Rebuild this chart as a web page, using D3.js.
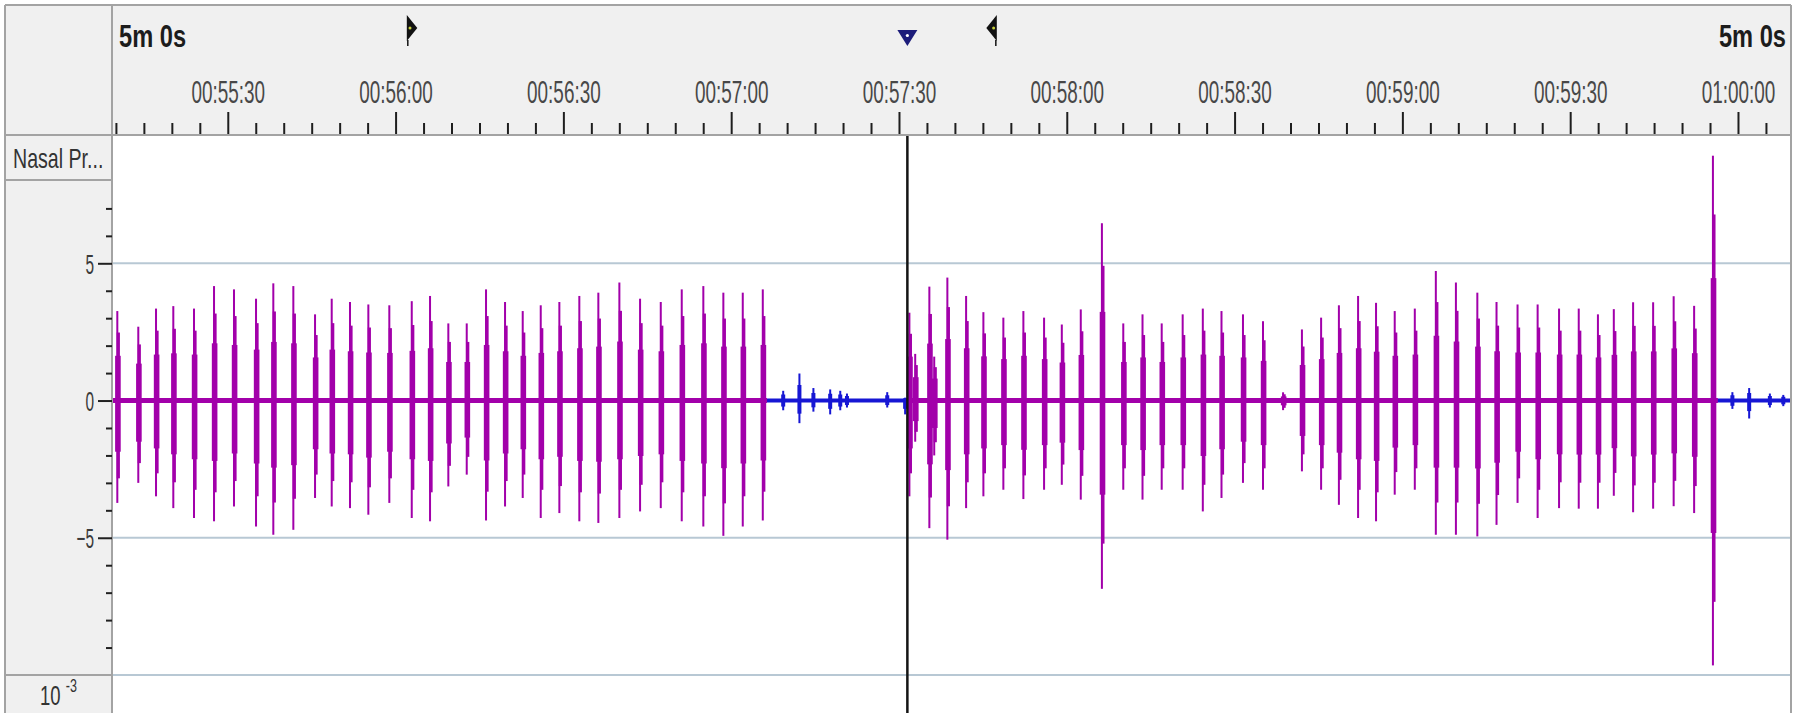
<!DOCTYPE html>
<html>
<head>
<meta charset="utf-8">
<script src="https://cdn.jsdelivr.net/npm/d3@7"></script>
<style>
  html, body { margin: 0; padding: 0; background: #ffffff; }
  svg { display: block; font-family: "Liberation Sans", Arial, sans-serif; }
</style>
</head>
<body>
<svg id="chart" width="1794" height="713"></svg>
<script>
// ---------------- data ----------------
const channelName = "Nasal Pr...";
const spanLabel = "5m 0s";
const unitBase = "10";
const unitExp = "-3";

// clock labels of the major time ticks
const timeTickLabels = ["00:55:30", "00:56:00", "00:56:30", "00:57:00", "00:57:30",
                        "00:58:00", "00:58:30", "00:59:00", "00:59:30", "01:00:00"];
// labelled amplitude ticks (x 10^-3)
const valueTicks = [5, 0, -5];

// visible window, seconds since 00:00:00
const viewWindow = [3309.3, 3609.3];
const cursorTime = 3451.5;
const markerTimes = [3362.9, 3466.6];

// spans of the trace drawn in the highlight colour
const flaggedSpans = [[3309.3, 3426.4], [3451.5, 3596.4]];

// breath bursts: time (s), positive peak, negative peak
const burstTime = [
  3310.25, 3314.0, 3317.17, 3320.26, 3323.96, 3327.54, 3331.11, 3335.05, 3338.14, 3341.72,
  3345.6, 3348.58, 3351.85, 3355.13, 3358.88, 3362.89, 3366.16, 3369.43, 3372.72, 3376.17,
  3379.57, 3382.73, 3385.95, 3389.28, 3392.85, 3396.25, 3400.01, 3403.71, 3407.41, 3411.16,
  3415.02, 3418.6, 3422.07, 3425.65,
  3451.86, 3452.9, 3455.43, 3456.3, 3458.65, 3462.0, 3465.09, 3468.66, 3472.24, 3475.94,
  3479.11, 3482.5, 3486.28, 3490.1, 3493.54, 3496.97, 3500.72, 3504.32, 3507.66, 3511.5,
  3515.08, 3518.67, 3522.04, 3525.47, 3528.65, 3532.08, 3535.29, 3538.63, 3542.22, 3545.98,
  3549.57, 3553.4, 3556.83, 3560.59, 3564.18, 3568.01, 3571.53, 3574.96, 3577.8, 3581.25,
  3584.83, 3588.5, 3592.16, 3595.52
];
const burstHigh = [
  3.26, 2.69, 3.35, 3.44, 3.35, 4.17, 4.05, 3.71, 4.27, 4.17,
  3.14, 3.71, 3.59, 3.50, 3.47, 3.62, 3.81, 2.81, 2.81, 4.05,
  3.59, 3.26, 3.47, 3.59, 3.81, 3.93, 4.30, 3.71, 3.59, 4.05,
  4.17, 3.93, 3.93, 4.05,
  3.20, 1.70, 4.15, 1.60, 4.48, 3.81, 3.22, 3.02, 3.26, 3.02,
  2.77, 3.32, 6.46, 2.81, 3.14, 2.81, 3.14, 3.35, 3.26, 3.14,
  2.89, 0.30, 2.59, 3.02, 3.47, 3.81, 3.56, 3.26, 3.35, 4.72,
  4.30, 3.93, 3.59, 3.50, 3.50, 3.35, 3.35, 3.14, 3.33, 3.58,
  3.58, 3.80, 3.45, 8.92
];
const burstLow = [
  -3.73, -3.00, -3.49, -3.92, -4.28, -4.40, -3.86, -4.59, -4.89, -4.71,
  -3.55, -3.86, -3.92, -4.16, -3.73, -4.28, -4.40, -3.13, -2.70, -4.37,
  -3.86, -3.55, -4.28, -4.10, -4.40, -4.46, -4.28, -4.04, -3.92, -4.40,
  -4.59, -4.93, -4.59, -4.37,
  -3.49, -1.50, -4.65, -2.00, -5.07, -3.92, -3.49, -3.25, -3.59, -3.25,
  -3.07, -3.61, -6.86, -3.25, -3.61, -3.25, -3.25, -4.04, -3.55, -3.00,
  -3.25, -0.35, -2.58, -3.25, -3.80, -4.28, -4.40, -3.43, -3.25, -4.89,
  -4.89, -4.95, -4.53, -3.73, -4.28, -3.92, -3.94, -3.94, -3.47, -4.07,
  -3.94, -3.85, -4.10, -9.65
];

// small excursions on the quiet parts of the trace
const noiseTime = [3429.3, 3432.2, 3434.7, 3437.7, 3439.5, 3440.7, 3447.9, 3451.1,
                   3599.0, 3602.0, 3605.7, 3608.1];
const noiseHigh = [0.30, 0.93, 0.40, 0.35, 0.30, 0.20, 0.25, 0.05, 0.25, 0.40, 0.20, 0.15];
const noiseLow  = [-0.30, -0.77, -0.35, -0.45, -0.30, -0.20, -0.20, -0.45, -0.25, -0.60, -0.20, -0.15];

// ---------------- layout ----------------
const W = 1794, H = 713;
const frameL = 5, frameT = 5, frameR = 1791;
const panelX = 112, headerB = 135, nameBoxB = 180, unitBoxT = 675;
const traceColor = "#a200aa", quietColor = "#1616d4";
const frameColor = "#a3a3a3", gridColor = "#b8c8d4", panelFill = "#f0f0f0";

const svg = d3.select("#chart");

const x = d3.scaleLinear().domain(viewWindow).range([panelX, 1790]);
const y = d3.scaleLinear().domain([-10, 5]).range([unitBoxT, 263.3]);

// backgrounds
svg.append("rect").attr("x", frameL).attr("y", frameT)
  .attr("width", frameR - frameL).attr("height", headerB - frameT).attr("fill", panelFill);
svg.append("rect").attr("x", frameL).attr("y", headerB)
  .attr("width", panelX - frameL).attr("height", H - headerB).attr("fill", panelFill);
svg.append("rect").attr("x", panelX).attr("y", headerB)
  .attr("width", frameR - panelX).attr("height", H - headerB).attr("fill", "#ffffff");

svg.append("defs").append("clipPath").attr("id", "plotClip")
  .append("rect").attr("x", panelX).attr("y", headerB)
  .attr("width", frameR - panelX).attr("height", H - headerB);

// grid lines every 5 units
const grid = svg.append("g");
grid.selectAll("line").data(d3.range(-10, 6, 5)).join("line")
  .attr("x1", panelX).attr("x2", frameR)
  .attr("y1", d => y(d)).attr("y2", d => y(d))
  .attr("stroke", gridColor).attr("stroke-width", 2);

// ---------------- trace ----------------
const plot = svg.append("g").attr("clip-path", "url(#plotClip)");
const isFlagged = t => flaggedSpans.some(([a, b]) => t >= a && t <= b);

// quiet baseline under the whole window, highlighted spans on top
plot.append("line")
  .attr("x1", x(viewWindow[0])).attr("x2", x(viewWindow[1]))
  .attr("y1", y(0)).attr("y2", y(0))
  .attr("stroke", quietColor).attr("stroke-width", 4);
plot.selectAll("line.span").data(flaggedSpans).join("line")
  .attr("class", "span")
  .attr("x1", d => x(d[0])).attr("x2", d => x(d[1]))
  .attr("y1", y(0)).attr("y2", y(0))
  .attr("stroke", traceColor).attr("stroke-width", 5);

const bursts = burstTime.map((t, i) => ({ t, hi: burstHigh[i], lo: burstLow[i] }));
const noise = noiseTime.map((t, i) => ({ t, hi: noiseHigh[i], lo: noiseLow[i] }));

// each excursion is drawn as a thin full-range stroke with a denser core
const burstLayers = [
  { k: 1.0, w: 2.0, dx: -1.0 },
  { k: 0.76, w: 3.2, dx: -0.6 },
  { k: 0.5, w: 5.6, dx: -2.2 }
];
burstLayers.forEach((L, li) => {
  plot.selectAll("rect.b" + li).data(bursts).join("rect")
    .attr("class", "b" + li)
    .attr("x", d => x(d.t) + L.dx).attr("width", L.w)
    .attr("y", d => y(d.hi * L.k))
    .attr("height", d => y(d.lo * L.k) - y(d.hi * L.k))
    .attr("fill", d => isFlagged(d.t) ? traceColor : quietColor);
});
const noiseLayers = [
  { k: 1.0, w: 2.0, dx: -1.0 },
  { k: 0.55, w: 4.0, dx: -2.0 }
];
noiseLayers.forEach((L, li) => {
  plot.selectAll("rect.n" + li).data(noise).join("rect")
    .attr("class", "n" + li)
    .attr("x", d => x(d.t) + L.dx).attr("width", L.w)
    .attr("y", d => y(d.hi * L.k) - 1.5)
    .attr("height", d => y(d.lo * L.k) - y(d.hi * L.k) + 3)
    .attr("fill", quietColor);
});

// cursor line
plot.append("line")
  .attr("x1", x(cursorTime)).attr("x2", x(cursorTime))
  .attr("y1", headerB).attr("y2", H)
  .attr("stroke", "#141414").attr("stroke-width", 2.5);

// ---------------- frame ----------------
const frame = svg.append("g").attr("stroke", frameColor).attr("stroke-width", 2);
frame.append("line").attr("x1", frameL).attr("x2", frameR).attr("y1", frameT).attr("y2", frameT);
frame.append("line").attr("x1", frameL).attr("x2", frameR).attr("y1", headerB).attr("y2", headerB);
frame.append("line").attr("x1", frameL).attr("x2", frameL).attr("y1", frameT).attr("y2", H);
frame.append("line").attr("x1", panelX).attr("x2", panelX).attr("y1", frameT).attr("y2", H);
frame.append("line").attr("x1", frameR).attr("x2", frameR).attr("y1", frameT).attr("y2", H);
frame.append("line").attr("x1", frameL).attr("x2", panelX).attr("y1", nameBoxB).attr("y2", nameBoxB);
frame.append("line").attr("x1", frameL).attr("x2", panelX).attr("y1", unitBoxT).attr("y2", unitBoxT);

// ---------------- time ruler ----------------
const toSec = s => { const [h, m, c] = s.split(":").map(Number); return h * 3600 + m * 60 + c; };
const majorTimes = timeTickLabels.map(toSec);
const minorTimes = d3.range(Math.ceil(viewWindow[0] / 5) * 5, viewWindow[1], 5)
  .filter(t => !majorTimes.includes(t));

const rulerY = headerB - 1;
const minorAxis = svg.append("g").attr("transform", `translate(0,${rulerY})`)
  .call(d3.axisTop(x).tickValues(minorTimes).tickSize(11).tickFormat(""));
const majorAxis = svg.append("g").attr("transform", `translate(0,${rulerY})`)
  .call(d3.axisTop(x).tickValues(majorTimes).tickSize(22)
    .tickFormat((d, i) => timeTickLabels[i]));
[minorAxis, majorAxis].forEach(a => {
  a.select(".domain").remove();
  a.selectAll(".tick line").attr("stroke", "#1e1e1e").attr("stroke-width", 2);
});
majorAxis.selectAll(".tick text")
  .attr("y", null).attr("dy", null)
  .attr("transform", "translate(0,-31) scale(0.61,1)")
  .attr("font-size", 31).attr("fill", "#484848")
  .attr("font-family", "'Liberation Sans', Arial, sans-serif");

// span labels at both ends
svg.append("text").text(spanLabel)
  .attr("transform", "translate(119,47) scale(0.74,1)")
  .attr("font-size", 32).attr("font-weight", "bold").attr("fill", "#1c1c1c");
svg.append("text").text(spanLabel)
  .attr("transform", "translate(1786,47) scale(0.74,1)")
  .attr("text-anchor", "end")
  .attr("font-size", 32).attr("font-weight", "bold").attr("fill", "#1c1c1c");

// range markers: flag triangles with a short stem
const mk = svg.append("g");
markerTimes.forEach((t, i) => {
  const cx = x(t);
  const dir = i === 0 ? 1 : -1;
  mk.append("path")
    .attr("d", `M${cx - 5 * dir},15 L${cx + 5.5 * dir},28 L${cx - 5 * dir},41 Z`)
    .attr("fill", "#121212");
  mk.append("line")
    .attr("x1", cx - 4 * dir).attr("x2", cx - 4 * dir).attr("y1", 40).attr("y2", 46)
    .attr("stroke", "#121212").attr("stroke-width", 1.5);
  mk.append("circle").attr("cx", cx - 1.8 * dir).attr("cy", 28).attr("r", 1.5)
    .attr("fill", "#c9d23c");
});
// cursor marker
const cxc = x(cursorTime);
mk.append("path").attr("d", `M${cxc - 10},30 L${cxc + 10},30 L${cxc},46 Z`).attr("fill", "#1c1c7a");
mk.append("circle").attr("cx", cxc).attr("cy", 35.5).attr("r", 1.6).attr("fill", "#ffffff");

// ---------------- amplitude axis ----------------
const minorValues = d3.range(-9, 8).filter(v => !valueTicks.includes(v));
const yMinor = svg.append("g").attr("transform", `translate(${panelX},0)`)
  .call(d3.axisLeft(y).tickValues(minorValues).tickSize(6).tickFormat(""));
const yMajor = svg.append("g").attr("transform", `translate(${panelX},0)`)
  .call(d3.axisLeft(y).tickValues(valueTicks).tickSize(14).tickFormat(d3.format("d")));
[yMinor, yMajor].forEach(a => {
  a.select(".domain").remove();
  a.selectAll(".tick line").attr("stroke", "#202020").attr("stroke-width", 2);
});
yMajor.selectAll(".tick text")
  .attr("x", null).attr("dy", null)
  .attr("transform", "translate(-18,10) scale(0.55,1)")
  .attr("text-anchor", "end")
  .attr("font-size", 28).attr("fill", "#3a3a3a")
  .attr("font-family", "'Liberation Sans', Arial, sans-serif");

// channel name and unit
svg.append("text").text(channelName)
  .attr("transform", "translate(13,168) scale(0.70,1)")
  .attr("font-size", 28).attr("fill", "#333333");
const unit = svg.append("text").attr("transform", "translate(40,705) scale(0.66,1)")
  .attr("font-size", 28).attr("fill", "#333333");
unit.append("tspan").text(unitBase);
unit.append("tspan").text(unitExp).attr("dx", 8).attr("dy", -13).attr("font-size", 19);
</script>
</body>
</html>
